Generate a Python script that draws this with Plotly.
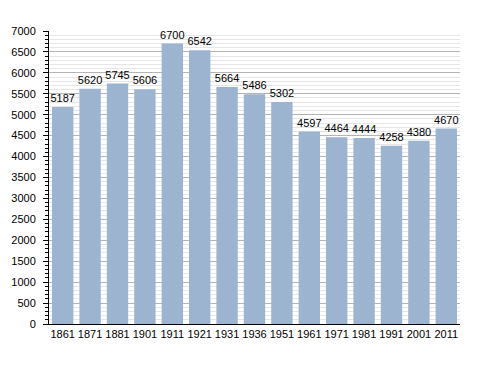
import plotly.graph_objects as go

years = ["1861", "1871", "1881", "1901", "1911", "1921", "1931", "1936", "1951",
         "1961", "1971", "1981", "1991", "2001", "2011"]
population = [5187, 5620, 5745, 5606, 6700, 6542, 5664, 5486, 5302,
              4597, 4464, 4444, 4258, 4380, 4670]

fig = go.Figure(go.Bar(
    x=years, y=population,
    marker=dict(color="#9cb4d0", line=dict(width=0)),
    text=[str(v) for v in population],
    textposition="outside",
    constraintext="none",
    textfont=dict(family="Liberation Sans, Arial", size=11, color="black"),
    cliponaxis=False,
))

fig.update_layout(
    width=480, height=365,
    margin=dict(l=41, r=28, t=23, b=49),
    paper_bgcolor="white", plot_bgcolor="white",
    bargap=0.22,
    showlegend=False,
    font=dict(family="Liberation Sans, Arial", size=11, color="black"),
)
fig.update_xaxes(
    type="category",
    showline=True, linecolor="black", linewidth=1,
    ticks="", tickfont=dict(size=11),
    showgrid=False,
    automargin=False,
)
fig.update_yaxes(
    range=[0, 7000], dtick=500,
    showline=True, linecolor="black", linewidth=1,
    ticks="outside", ticklen=5, tickcolor="black",
    ticklabelstandoff=5,
    automargin=False,
    gridcolor="#b4b4b4", gridwidth=1,
    zeroline=False,
    tickfont=dict(size=11),
    minor=dict(dtick=100, ticks="outside", ticklen=3, tickcolor="black",
               showgrid=True, gridcolor="#e6e6e6", gridwidth=1),
)

fig.write_html("out.html")
